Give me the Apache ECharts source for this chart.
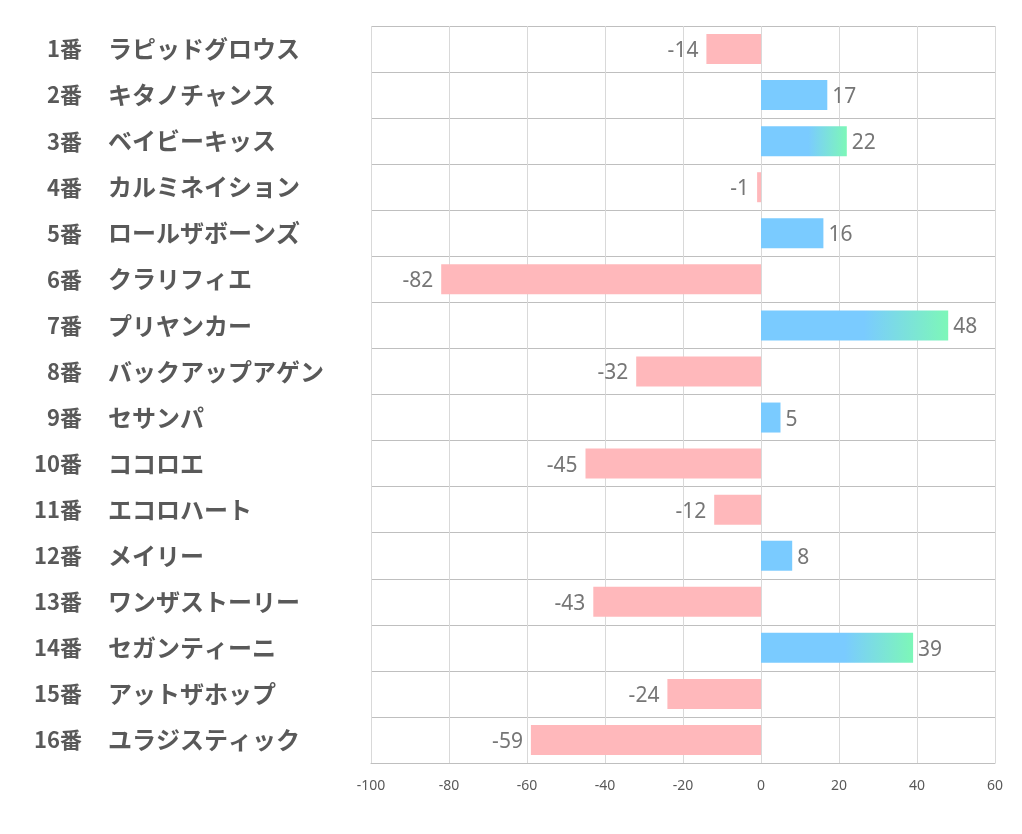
<!DOCTYPE html>
<html><head><meta charset="utf-8">
<script src="https://cdn.jsdelivr.net/npm/echarts@6/dist/echarts.min.js"></script>
<style>html,body{margin:0;padding:0;background:#fff}#c{width:1022px;height:834px}</style>
</head><body><div id="c"></div>
<script>
const numbers = ['1番','2番','3番','4番','5番','6番','7番','8番','9番','10番','11番','12番','13番','14番','15番','16番'];
const names = ['ラピッドグロウス','キタノチャンス','ベイビーキッス','カルミネイション','ロールザボーンズ','クラリフィエ','プリヤンカー','バックアップアゲン','セサンパ','ココロエ','エコロハート','メイリー','ワンザストーリー','セガンティーニ','アットザホップ','ユラジスティック'];
const values = [-14,17,22,-1,16,-82,48,-32,5,-45,-12,8,-43,39,-24,-59];
const xTicks = {min:-100, max:60, interval:20};

const BLUE='#7ACBFF', GREEN='#7DF7B8', PINK='#FFB8BB';
const data = values.map(v=>{
  let color = v<0 ? PINK : BLUE;
  if (v>20) color = {type:'linear',x:0,y:0,x2:1,y2:0,colorStops:[{offset:0,color:BLUE},{offset:0.55,color:BLUE},{offset:1,color:GREEN}]};
  return {value:v,itemStyle:{color},label:{position: v<0?'left':'right', distance: v<0?8:5}};
});
const labelFont = {fontWeight:'bold',color:'#595959',fontFamily:'Noto Sans CJK JP'};
const chart = echarts.init(document.getElementById('c'));
chart.setOption({
  animation:false,
  grid:{left:371,right:27,top:26,bottom:71,containLabel:false},
  xAxis:{type:'value',min:xTicks.min,max:xTicks.max,interval:xTicks.interval,
    axisLine:{show:true,lineStyle:{color:'#bfbfbf'}},axisTick:{show:false},
    axisLabel:{fontSize:14,color:'#595959',margin:16,fontFamily:'Noto Sans'},
    splitLine:{show:true,lineStyle:{color:'#d9d9d9'}}},
  yAxis:[
    {type:'category',inverse:true,data:names,position:'left',
     axisLine:{show:false},axisTick:{show:false},
     splitLine:{show:true,lineStyle:{color:'#bfbfbf'}},
     axisLabel:Object.assign({align:'left',margin:263,fontSize:24},labelFont)},
    {type:'category',inverse:true,data:numbers,position:'left',
     axisLine:{show:false},axisTick:{show:false},splitLine:{show:false},
     axisLabel:Object.assign({align:'right',margin:289,fontSize:22},labelFont)}
  ],
  series:[{type:'bar',data:data,barWidth:30,yAxisIndex:0,
    label:{show:true,fontSize:21,color:'#767676',fontFamily:'Noto Sans',offset:[0,2]}}]
});
</script></body></html>
